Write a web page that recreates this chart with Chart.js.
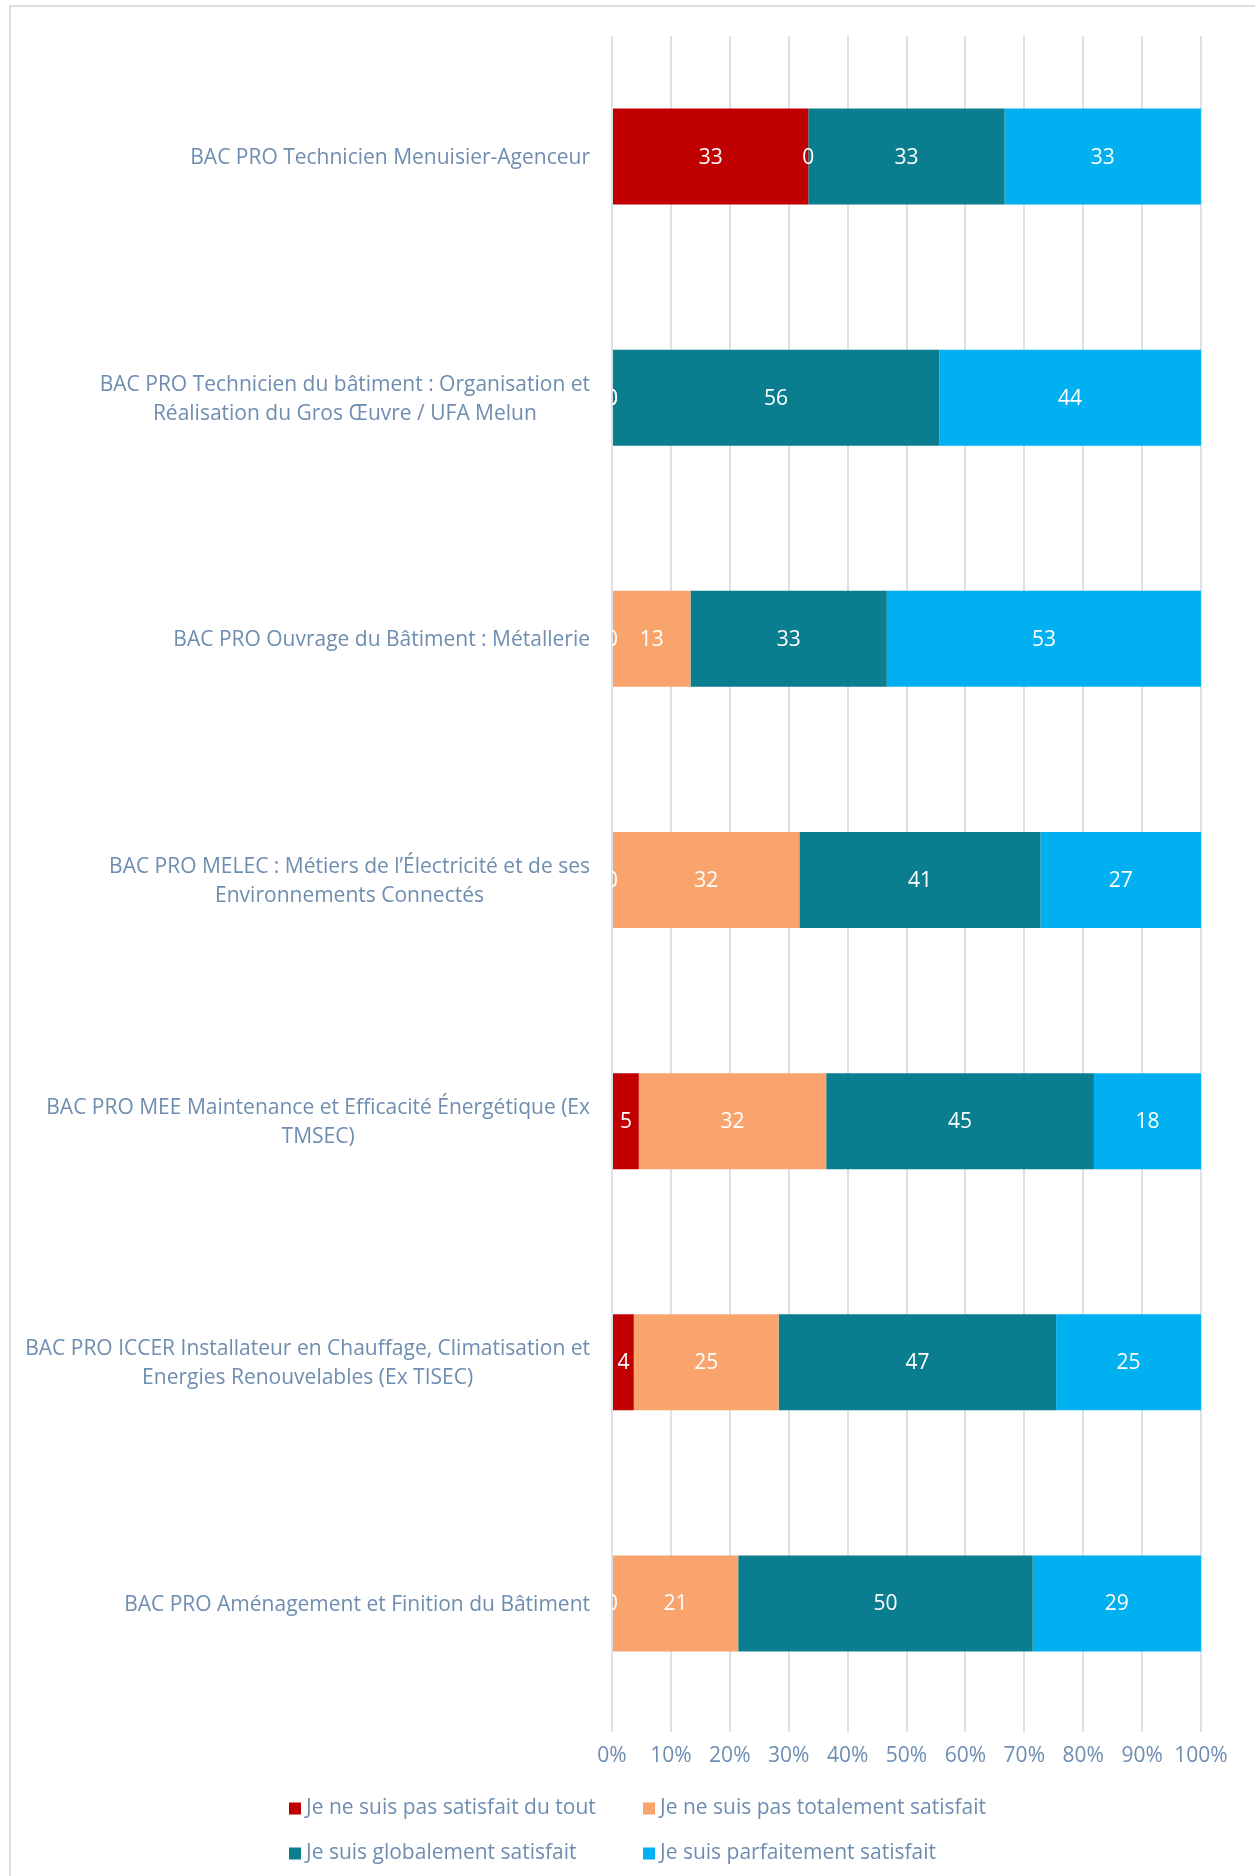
<!DOCTYPE html>
<html><head><meta charset="utf-8">
<script src="https://cdn.jsdelivr.net/npm/chart.js@4.4.0/dist/chart.umd.min.js"></script>
<style>
html,body{margin:0;padding:0;background:#fff;overflow:hidden;width:1255px;height:1876px}
#frame{position:absolute;left:9px;top:5px;width:1300px;height:1900px;border:2px solid #DADFE5;box-sizing:border-box}
#wrap{position:absolute;left:0;top:0;width:1255px;height:1876px}
</style></head><body>
<div id="frame"></div>
<div id="wrap"><canvas id="c" width="1255" height="1876"></canvas></div>
<script>
const categories = [
  ["BAC PRO Technicien Menuisier-Agenceur"],
  ["BAC PRO Technicien du bâtiment : Organisation et", "Réalisation du Gros Œuvre / UFA Melun"],
  ["BAC PRO Ouvrage du Bâtiment : Métallerie"],
  ["BAC PRO MELEC : Métiers de l’Électricité et de ses", "Environnements Connectés"],
  ["BAC PRO MEE Maintenance et Efficacité Énergétique (Ex", "TMSEC)"],
  ["BAC PRO ICCER Installateur en Chauffage, Climatisation et", "Energies Renouvelables (Ex TISEC)"],
  ["BAC PRO Aménagement et Finition du Bâtiment"]
];
const seriesNames = [
  "Je ne suis pas satisfait du tout",
  "Je ne suis pas totalement satisfait",
  "Je suis globalement satisfait",
  "Je suis parfaitement satisfait"
];
const pasDuTout     = [33.33, 0, 0, 0, 4.55, 3.7, 0];
const pasTotalement = [0, 0, 13.33, 31.82, 31.82, 24.6, 21.43];
const globalement   = [33.33, 55.56, 33.33, 40.91, 45.45, 47.1, 50];
const parfaitement  = [33.33, 44.44, 53.33, 27.27, 18.18, 24.6, 28.57];
const xTicks = [0,10,20,30,40,50,60,70,80,90,100];

const colors = ["#C00000", "#F8A46C", "#0A7D8F", "#00B0F0"];
const textColor = "#6E8DB1";
const FONT = "'Open Sans'";
const FS = 21;

const labelPlugin = {
  id: 'barLabels',
  afterDatasetsDraw(chart) {
    const ctx = chart.ctx, a = chart.chartArea;
    ctx.save();
    ctx.beginPath(); ctx.rect(a.left, a.top, a.right - a.left, a.bottom - a.top); ctx.clip();
    ctx.font = FS + "px " + FONT;
    ctx.fillStyle = "#FFFFFF";
    ctx.textAlign = "center"; ctx.textBaseline = "middle";
    chart.data.datasets.forEach((ds, i) => {
      chart.getDatasetMeta(i).data.forEach((el, j) => {
        const x = (el.x + el.base) / 2;
        ctx.fillText(String(Math.round(ds.data[j])), x, el.y + 1);
      });
    });
    ctx.restore();
  }
};

const catLabelPlugin = {
  id: 'catLabels',
  afterDraw(chart) {
    const ctx = chart.ctx, ys = chart.scales.y;
    ctx.save();
    ctx.font = FS + "px " + FONT;
    ctx.fillStyle = textColor;
    ctx.textAlign = "center"; ctx.textBaseline = "middle";
    const lineH = 29, rightEdge = 590;
    categories.forEach((lines, i) => {
      const y = ys.getPixelForValue(i) + 1.5;
      const w = Math.max(...lines.map(l => ctx.measureText(l).width));
      const cx = rightEdge - w / 2;
      lines.forEach((l, k) => {
        ctx.fillText(l, cx, y - (lines.length - 1) * lineH / 2 + k * lineH);
      });
    });
    ctx.restore();
  }
};

const legendPlugin = {
  id: 'gridLegend',
  afterDraw(chart) {
    const ctx = chart.ctx;
    ctx.save();
    ctx.font = FS + "px " + FONT;
    ctx.textBaseline = "middle"; ctx.textAlign = "left";
    const colX = [289, 643], rowY = [1808.5, 1853.5];
    chart.data.datasets.forEach((ds, i) => {
      const x = colX[i % 2], y = rowY[Math.floor(i / 2)];
      ctx.fillStyle = ds.backgroundColor;
      ctx.fillRect(x, y - 6, 12, 12);
      ctx.fillStyle = textColor;
      ctx.fillText(ds.label, x + 17, y);
    });
    ctx.restore();
  }
};

const seriesData = [pasDuTout, pasTotalement, globalement, parfaitement];
new Chart(document.getElementById('c'), {
  type: 'bar',
  data: {
    labels: categories.map(c => c.join(' ')),
    datasets: seriesData.map((d, i) => ({
      label: seriesNames[i], data: d, backgroundColor: colors[i],
      borderWidth: 0, categoryPercentage: 1, barPercentage: 0.398
    }))
  },
  options: {
    indexAxis: 'y',
    responsive: false,
    animation: false,
    devicePixelRatio: 1,
    layout: { padding: { top: 36, right: 54, bottom: 108, left: 0 } },
    plugins: { legend: { display: false }, tooltip: { enabled: false } },
    scales: {
      x: {
        stacked: true, min: 0, max: 100,
        afterBuildTicks(s) { s.ticks = xTicks.map(v => ({ value: v })); },
        ticks: { callback: v => v + '%', color: textColor, font: { family: FONT, size: FS }, padding: 11, maxRotation: 0 },
        grid: { color: "#D9E1EA", lineWidth: 2, drawTicks: true, tickLength: 8 },
        border: { display: false },
        afterFit(s) { s.height = 44; }
      },
      y: {
        stacked: true,
        ticks: { display: false },
        grid: { display: false },
        border: { display: false },
        afterFit(s) { s.width = 612; }
      }
    }
  },
  plugins: [labelPlugin, catLabelPlugin, legendPlugin]
});
</script>
</body></html>
